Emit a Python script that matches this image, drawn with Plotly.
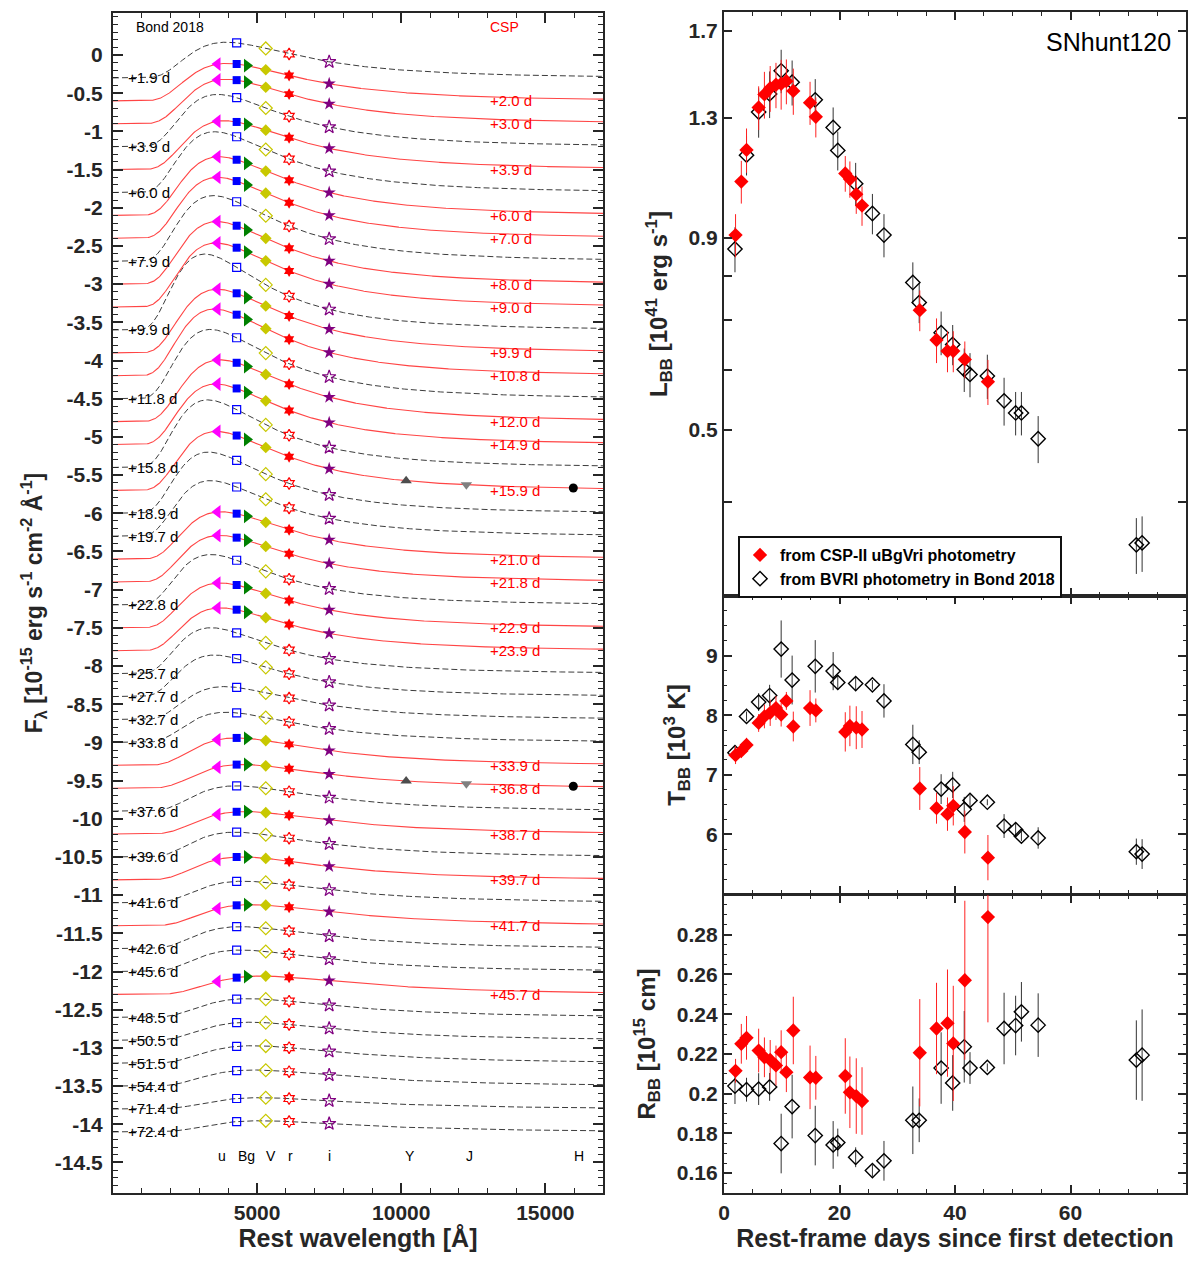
import numpy as np
import plotly.graph_objects as go

# ---------------- data ----------------
csp_days = [2.0, 3.0, 3.9, 6.0, 7.0, 8.0, 9.0, 9.9, 10.8, 12.0, 14.9, 15.9,
            21.0, 21.8, 22.9, 23.9, 33.9, 36.8, 38.7, 39.7, 41.7, 45.7]
csp_L = [0.908, 1.070, 1.179, 1.343, 1.398, 1.425, 1.440, 1.444, 1.456, 1.413, 1.363, 1.305,
         1.097, 1.078, 1.029, 0.994, 0.721, 0.658, 0.636, 0.636, 0.620, 0.579]
csp_L_err = [0.06, 0.07, 0.08, 0.09, 0.10, 0.10, 0.10, 0.11, 0.10, 0.10, 0.09, 0.08,
             0.06, 0.06, 0.06, 0.06, 0.045, 0.045, 0.04, 0.04, 0.035, 0.04]
csp_T = [7.33, 7.40, 7.50, 7.87, 7.98, 8.04, 8.12, 8.01, 8.24, 7.81, 8.12, 8.08,
         7.72, 7.82, 7.79, 7.76, 6.77, 6.44, 6.34, 6.48, 6.04, 5.61]
csp_T_err = [0.15, 0.12, 0.12, 0.15, 0.20, 0.22, 0.20, 0.20, 0.15, 0.25, 0.30, 0.20,
             0.33, 0.34, 0.36, 0.31, 0.36, 0.26, 0.28, 0.33, 0.36, 0.38]
csp_R = [0.2115, 0.2251, 0.2281, 0.2217, 0.2183, 0.2170, 0.2142, 0.2209, 0.2108, 0.2318, 0.2082, 0.2080,
         0.2089, 0.2007, 0.1988, 0.1963, 0.2206, 0.2328, 0.2355, 0.2253, 0.2571, 0.2889]
csp_R_err = [0.006, 0.010, 0.011, 0.011, 0.010, 0.010, 0.010, 0.011, 0.010, 0.017, 0.016, 0.011,
             0.019, 0.018, 0.019, 0.017, 0.027, 0.023, 0.027, 0.029, 0.040, 0.053]
csp_nir_days = [15.9, 36.8]

bond_days = [1.9, 3.9, 6.0, 7.9, 9.9, 11.8, 15.8, 18.9, 19.7, 22.8, 25.7, 27.7, 32.7,
             33.8, 37.6, 39.6, 41.6, 42.6, 45.6, 48.5, 50.5, 51.5, 54.4, 71.4, 72.4]
bond_L = [0.870, 1.16, 1.324, 1.40, 1.503, 1.451, 1.375, 1.263, 1.177, 1.063, 0.970, 0.908, 0.785,
          0.738, 0.673, 0.649, 0.601, 0.592, 0.589, 0.546, 0.526, 0.526, 0.486, 0.351, 0.353]
bond_L_err = [0.06, 0.07, 0.10, 0.10, 0.10, 0.10, 0.09, 0.08, 0.07, 0.07, 0.06, 0.06, 0.05,
              0.045, 0.045, 0.04, 0.04, 0.04, 0.04, 0.04, 0.035, 0.035, 0.035, 0.03, 0.03]
bond_T = [7.37, 7.98, 8.22, 8.33, 9.11, 8.59, 8.82, 8.74, 8.55, 8.53, 8.51, 8.24, 7.51,
          7.38, 6.76, 6.83, 6.42, 6.57, 6.54, 6.14, 6.08, 5.97, 5.94, 5.71, 5.67]
bond_T_err = [0.10, 0.08, 0.15, 0.18, 0.48, 0.41, 0.44, 0.32, 0.12, 0.12, 0.08, 0.28, 0.33,
              0.20, 0.25, 0.22, 0.21, 0.10, 0.05, 0.20, 0.12, 0.08, 0.18, 0.22, 0.25]
bond_R = [0.2038, 0.2020, 0.2023, 0.2034, 0.1749, 0.1935, 0.1789, 0.1742, 0.1754, 0.1680, 0.1613, 0.1662, 0.1866,
          0.1866, 0.2129, 0.2054, 0.2236, 0.2129, 0.2132, 0.2328, 0.2343, 0.2412, 0.2345, 0.2169, 0.2194]
bond_R_err = [0.009, 0.006, 0.008, 0.007, 0.015, 0.016, 0.015, 0.012, 0.007, 0.005, 0.003, 0.010, 0.017,
              0.011, 0.018, 0.014, 0.018, 0.008, 0.002, 0.018, 0.015, 0.015, 0.016, 0.020, 0.023]

# filter effective (rest) wavelengths in Angstrom
csp_filters = ["u", "B", "g", "V", "r", "i"]
nir_filters = ["Y", "J", "H"]
bond_filters = ["B", "V", "R", "I"]
filter_lam = {"u": 3625, "B": 4290, "g": 4650, "V": 5300, "r": 6110, "i": 7500,
              "R": 6110, "I": 7500, "Y": 10170, "J": 12260, "H": 15970}

# filter name labels along the bottom of the SED panel
band_names = ["u", "Bg", "V", "r", "i", "Y", "J", "H"]

# ---------------- styles / layout parameters ----------------
FONT = "Liberation Sans, Arial, Helvetica, sans-serif"
AX = "#262626"
C2 = 1.4388e8          # hc/k  [Angstrom K]
FLUX_K = 1.506e21      # flux display scale (R in 1e15 cm, F in 1e-15 cgs/A)
OFFSET_STEP = 0.3
band_label_x = [3770, 4636, 5465, 6160, 7525, 10320, 12355, 16160]

csp_style = {
    "u": dict(symbol="triangle-left", color="#FF00FF", size=12),
    "B": dict(symbol="square", color="#0000FF", size=8),
    "g": dict(symbol="triangle-right", color="#008000", size=12),
    "V": dict(symbol="diamond", color="#C8C800", size=9),
    "r": dict(symbol="hexagram", color="#FF0000", size=9),
    "i": dict(symbol="star", color="#800080", size=10),
    "Y": dict(symbol="triangle-up", color="#4D4D4D", size=10),
    "J": dict(symbol="triangle-down", color="#808080", size=10),
    "H": dict(symbol="circle", color="#000000", size=9),
}
bond_style = {
    "B": dict(symbol="square-open", color="#0000FF", size=8),
    "V": dict(symbol="diamond-open", color="#C8C800", size=10),
    "R": dict(symbol="hexagram-open", color="#FF0000", size=9),
    "I": dict(symbol="star-open", color="#800080", size=10),
}


def bb_flux(lam, T_kK, R):
    lam = np.asarray(lam, dtype=float)
    T = T_kK * 1000.0
    with np.errstate(over="ignore", divide="ignore", invalid="ignore"):
        f = FLUX_K * R ** 2 * lam ** -5.0 / np.expm1(C2 / (lam * T))
    return np.where(np.isfinite(f), f, 0.0)


# order all epochs in time (Bond first on ties), each gets its own offset
entries = [(d, "B", i) for i, d in enumerate(bond_days)] + [(d, "C", i) for i, d in enumerate(csp_days)]
entries = sorted(entries, key=lambda e: e[0])

lam_grid = np.linspace(0, 17000, 700)

fig = go.Figure()

curve_x = {"B": [], "C": []}
curve_y = {"B": [], "C": []}
mk = {}
annotations = []
for k, (d, src, i) in enumerate(entries):
    off = -OFFSET_STEP * (k + 1)
    if src == "B":
        T, R = bond_T[i], bond_R[i]
        fl = bond_filters
    else:
        T, R = csp_T[i], csp_R[i]
        fl = csp_filters + (nir_filters if d in csp_nir_days else [])
    curve_x[src] += list(lam_grid) + [None]
    curve_y[src] += list(off + bb_flux(lam_grid, T, R)) + [None]
    for f in fl:
        key = (src, f)
        mk.setdefault(key, ([], []))
        mk[key][0].append(filter_lam[f])
        mk[key][1].append(off + float(bb_flux(filter_lam[f], T, R)))
    if src == "B":
        annotations.append(dict(x=450, y=off, xref="x", yref="y", text=f"+{d:.1f} d",
                                showarrow=False, xanchor="left", yanchor="middle",
                                font=dict(family=FONT, size=15, color="black")))
    else:
        annotations.append(dict(x=13000, y=off, xref="x", yref="y", text=f"+{d:.1f} d",
                                showarrow=False, xanchor="left", yanchor="middle",
                                font=dict(family=FONT, size=15, color="#FF0000")))

fig.add_trace(go.Scatter(x=curve_x["B"], y=curve_y["B"], mode="lines", xaxis="x", yaxis="y",
                         line=dict(color="#3C3C3C", width=1, dash="6px,3px"), showlegend=False,
                         hoverinfo="skip"))
fig.add_trace(go.Scatter(x=curve_x["C"], y=curve_y["C"], mode="lines", xaxis="x", yaxis="y",
                         line=dict(color="#FF4545", width=1.1), showlegend=False, hoverinfo="skip"))

for (src, f), (xs, ys) in mk.items():
    st = bond_style[f] if src == "B" else csp_style[f]
    fig.add_trace(go.Scatter(x=xs, y=ys, mode="markers", xaxis="x", yaxis="y", showlegend=False,
                             marker=dict(symbol=st["symbol"], color=st["color"], size=st["size"],
                                         line=dict(width=1.2 if src == "B" else 0, color=st["color"]))))

annotations.append(dict(x=730, y=0.37, xref="x", yref="y", text="Bond 2018", showarrow=False,
                        xanchor="left", yanchor="middle", font=dict(family=FONT, size=14, color="black")))
annotations.append(dict(x=13000, y=0.37, xref="x", yref="y", text="CSP", showarrow=False,
                        xanchor="left", yanchor="middle", font=dict(family=FONT, size=14, color="#FF0000")))
for name, xl in zip(band_names, band_label_x):
    annotations.append(dict(x=xl, y=-14.42, xref="x", yref="y", text=name, showarrow=False,
                            xanchor="center", yanchor="middle", font=dict(family=FONT, size=14, color="black")))

# ---------------- right panels ----------------
panels = [("x2", "y2", csp_L, csp_L_err, bond_L, bond_L_err),
          ("x3", "y3", csp_T, csp_T_err, bond_T, bond_T_err),
          ("x4", "y4", csp_R, csp_R_err, bond_R, bond_R_err)]
for j, (xa, ya, cv, ce, bv, be) in enumerate(panels):
    fig.add_trace(go.Scatter(x=bond_days, y=bv, mode="markers", xaxis=xa, yaxis=ya,
                             name="from BVRI photometry in Bond 2018", legendrank=2,
                             showlegend=(j == 0),
                             marker=dict(symbol="diamond-open", size=11, color="black",
                                         line=dict(width=1.4, color="black")),
                             error_y=dict(type="data", array=be, color="#333333", thickness=1, width=0)))
    fig.add_trace(go.Scatter(x=csp_days, y=cv, mode="markers", xaxis=xa, yaxis=ya,
                             name="from CSP-II uBgVri photometry", legendrank=1,
                             showlegend=(j == 0),
                             marker=dict(symbol="diamond", size=11, color="#FF0000",
                                         line=dict(width=0)),
                             error_y=dict(type="data", array=ce, color="#FF2020", thickness=1, width=0)))

annotations.append(dict(x=1173 / 1200, y=1 - 42 / 1265, xref="paper", yref="paper", text="SNhunt120",
                        showarrow=False, xanchor="right", yanchor="middle",
                        font=dict(family=FONT, size=25, color="black")))

tickfont = dict(family=FONT, size=21, color=AX, weight="bold")
titlefont = dict(family=FONT, size=24, color=AX, weight="bold")
xtitlefont = dict(family=FONT, size=25, color=AX, weight="bold")


def axis_common(**kw):
    d = dict(showline=True, linecolor=AX, linewidth=2.2, mirror="ticks", ticks="inside",
             tickcolor=AX, tickwidth=1.6, showgrid=False, zeroline=False, automargin=False,
             tickfont=tickfont)
    d.update(kw)
    return d


yl_vals = [-0.5 * n for n in range(0, 30)]
yl_text = [("%g" % v) if v != 0 else "0" for v in yl_vals]

LX = [113 / 1200, 603 / 1200]
RX = [724 / 1200, 1186 / 1200]

fig.update_layout(
    width=1200, height=1265, margin=dict(l=0, r=0, t=0, b=0),
    paper_bgcolor="white", plot_bgcolor="white",
    font=dict(family=FONT, color=AX),
    xaxis=axis_common(domain=LX, range=[0, 17000], tickvals=[5000, 10000, 15000],
                      ticktext=["5000", "10000", "15000"], ticklen=10,
                      minor=dict(dtick=1000, tick0=0, ticks="inside", ticklen=5, tickcolor=AX, tickwidth=1.4),
                      title=dict(text="Rest wavelength [Å]", font=xtitlefont, standoff=4),
                      anchor="y"),
    yaxis=axis_common(domain=[1 - 1193 / 1265, 1 - 13 / 1265], range=[-14.9, 0.55],
                      tickvals=yl_vals, ticktext=yl_text, ticklen=10, ticklabelstandoff=4,
                      minor=dict(dtick=0.1, tick0=0, ticks="inside", ticklen=5, tickcolor=AX, tickwidth=1.4),
                      title=dict(text="F<sub>λ</sub> [10<sup>-15</sup> erg s<sup>-1</sup> cm<sup>-2</sup> Å<sup>-1</sup>]",
                                 font=dict(family=FONT, size=23, color=AX, weight="bold"), standoff=6),
                      anchor="x"),
    xaxis2=axis_common(domain=RX, range=[0, 80], tickvals=[0, 20, 40, 60], showticklabels=False, ticklen=8,
                       minor=dict(dtick=5, tick0=0, ticks="inside", ticklen=4, tickcolor=AX, tickwidth=1.4),
                       anchor="y2"),
    yaxis2=axis_common(domain=[1 - 596 / 1265, 1 - 12 / 1265], type="log",
                       range=[np.log10(0.3), np.log10(1.8)],
                       tickvals=[0.5, 0.9, 1.3, 1.7], ticktext=["0.5", "0.9", "1.3", "1.7"], ticklen=8,
                       minor=dict(tickvals=[0.4, 0.6, 0.7, 0.8], ticks="inside", ticklen=8, tickcolor=AX, tickwidth=1.6),
                       title=dict(text="L<sub>BB</sub> [10<sup>41</sup> erg s<sup>-1</sup>]", font=titlefont, standoff=14),
                       anchor="x2"),
    xaxis3=axis_common(domain=RX, range=[0, 80], tickvals=[0, 20, 40, 60], showticklabels=False, ticklen=8,
                       minor=dict(dtick=5, tick0=0, ticks="inside", ticklen=4, tickcolor=AX, tickwidth=1.4),
                       anchor="y3"),
    yaxis3=axis_common(domain=[1 - 894 / 1265, 1 - 596 / 1265], range=[5, 10],
                       tickvals=[6, 7, 8, 9], ticktext=["6", "7", "8", "9"], ticklen=8,
                       minor=dict(dtick=0.25, tick0=0, ticks="inside", ticklen=3, tickcolor=AX, tickwidth=1),
                       title=dict(text="T<sub>BB</sub> [10<sup>3</sup> K]", font=titlefont, standoff=14),
                       anchor="x3"),
    xaxis4=axis_common(domain=RX, range=[0, 80], tickvals=[0, 20, 40, 60], ticklen=8,
                       minor=dict(dtick=5, tick0=0, ticks="inside", ticklen=4, tickcolor=AX, tickwidth=1.4),
                       title=dict(text="Rest-frame days since first detection", font=xtitlefont, standoff=4),
                       anchor="y4"),
    yaxis4=axis_common(domain=[1 - 1193 / 1265, 1 - 895 / 1265], range=[0.15, 0.30],
                       tickvals=[0.16, 0.18, 0.20, 0.22, 0.24, 0.26, 0.28],
                       ticktext=["0.16", "0.18", "0.2", "0.22", "0.24", "0.26", "0.28"], ticklen=8,
                       minor=dict(dtick=0.005, tick0=0, ticks="inside", ticklen=3, tickcolor=AX, tickwidth=1),
                       title=dict(text="R<sub>BB</sub> [10<sup>15</sup> cm]", font=titlefont, standoff=14),
                       anchor="x4"),
    legend=dict(x=738 / 1200, y=1 - 536 / 1265, xanchor="left", yanchor="top",
                bgcolor="white", bordercolor="#111111", borderwidth=2,
                font=dict(family=FONT, size=16, color="black", weight="bold"),
                itemwidth=30, tracegroupgap=0),
    annotations=annotations,
)

fig.write_html("out.html", config={"displayModeBar": False},
               post_script="document.body.style.margin='0px';document.body.style.overflow='hidden';")
